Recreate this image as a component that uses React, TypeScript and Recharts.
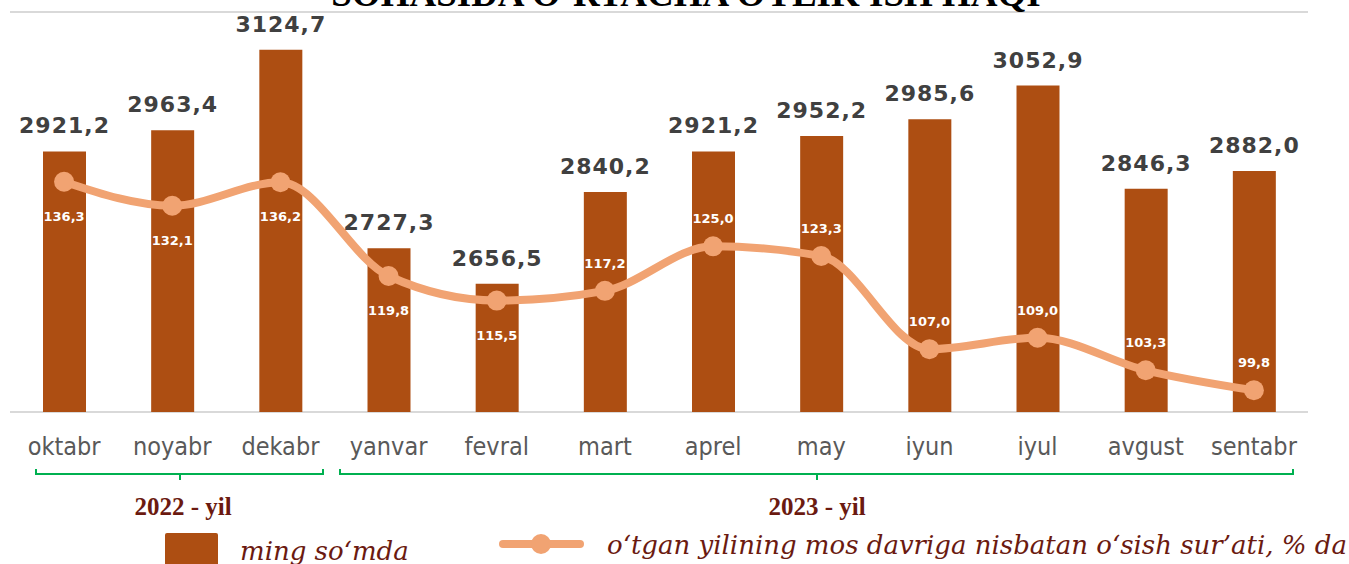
import React from "react";
import { Bar, CartesianGrid, ComposedChart, LabelList, Line, XAxis, YAxis } from "recharts";

// oylar
const months = ["oktabr", "noyabr", "dekabr", "yanvar", "fevral", "mart", "aprel", "may", "iyun", "iyul", "avgust", "sentabr"];
// o'rtacha oylik ish haqi, ming so'mda
const wages = [2921.2, 2963.4, 3124.7, 2727.3, 2656.5, 2840.2, 2921.2, 2952.2, 2985.6, 3052.9, 2846.3, 2882.0];
// o'tgan yilning mos davriga nisbatan o'sish sur'ati, %
const growth = [136.3, 132.1, 136.2, 119.8, 115.5, 117.2, 125.0, 123.3, 107.0, 109.0, 103.3, 99.8];
const wageTicks = [2400, 2500, 2600, 2700, 2800, 2900, 3000, 3100, 3200];

const data = months.map((m, i) => ({ month: m, wage: wages[i], growth: growth[i] }));

const W = 1349;
const H = 564;
const BAR = "#AD4E12";
const LINE = "#F1A372";
const DARKRED = "#6B1A10";

const fmt = (v: unknown) => Number(v).toFixed(1).replace(".", ",");

function MonthTick(props: any) {
  const { x, y, payload } = props;
  return (
    <text x={x} y={y + 35} textAnchor="middle" fill="#595959" fontSize={25} fontFamily="'DejaVu Sans Condensed', 'DejaVu Sans', sans-serif">
      {payload.value}
    </text>
  );
}

function GrowthLabel(props: any) {
  const { x, y, value, index } = props;
  // birinchi besh oyda yorliq nuqta ostida
  const below = index < 5;
  return (
    <text
      x={x}
      y={below ? y + 39 : y - 23}
      textAnchor="middle"
      fill="#fff"
      fontSize={13}
      fontWeight="bold"
      fontFamily="'DejaVu Sans', sans-serif"
    >
      {fmt(value)}
    </text>
  );
}

export default function App() {
  return (
    <div style={{ position: "absolute", left: 0, top: 0, width: W, height: H, overflow: "hidden", background: "#fff" }}>
      <ComposedChart width={W} height={H} data={data} margin={{ top: 12, right: 41, left: 10, bottom: 112 }}>
        <CartesianGrid vertical={false} stroke="#D9D9D9" strokeWidth={2} yAxisId="left" />
        <XAxis dataKey="month" axisLine={false} tickLine={false} height={40} tick={<MonthTick />} interval={0} />
        <YAxis yAxisId="left" domain={[2400, 3200]} ticks={wageTicks} width={0} tick={false} axisLine={false} tickLine={false} />
        <YAxis yAxisId="right" orientation="right" domain={[96, 166]} hide />
        <Bar yAxisId="left" dataKey="wage" fill={BAR} barSize={43} isAnimationActive={false}>
          <LabelList
            dataKey="wage"
            position="top"
            offset={18}
            formatter={fmt}
            fill="#404040"
            fontSize={22}
            fontWeight="bold"
            letterSpacing={1}
            fontFamily="'DejaVu Sans', sans-serif"
          />
        </Bar>
        <Line
          yAxisId="right"
          type="monotone"
          dataKey="growth"
          stroke={LINE}
          strokeWidth={8}
          dot={{ r: 10, fill: LINE, stroke: LINE, strokeWidth: 0 }}
          activeDot={false}
          isAnimationActive={false}
        >
          <LabelList dataKey="growth" content={<GrowthLabel />} />
        </Line>
      </ComposedChart>

      <svg width={W} height={H} style={{ position: "absolute", left: 0, top: 0, pointerEvents: "none" }}>
        <text x={686} y={6} textAnchor="middle" fontSize={37} fontWeight="bold" fontFamily="'Liberation Serif', serif" fill="#000">
          SOHASIDA O‘RTACHA OYLIK ISH HAQI
        </text>

        <g stroke="#00B050" strokeWidth={2} fill="none">
          <path d="M36 469 V474 H323 V469 M180 474 V480" />
          <path d="M340 469 V474 H1293 V469 M817 474 V480" />
        </g>
        <g fontFamily="'Liberation Serif', serif" fontWeight="bold" fontSize={25} fill={DARKRED} textAnchor="middle">
          <text x={183} y={515}>2022 - yil</text>
          <text x={817} y={515}>2023 - yil</text>
        </g>

        <rect x={165} y={533} width={53} height={40} fill={BAR} rx={2} />
        <text x={240} y={560} fontFamily="'DejaVu Serif', serif" fontStyle="italic" fontSize={26} fill={DARKRED}>
          ming so‘mda
        </text>
        <line x1={503} y1={544} x2={580} y2={544} stroke={LINE} strokeWidth={8} strokeLinecap="round" />
        <circle cx={541} cy={544} r={10} fill={LINE} />
        <text x={607} y={554} fontFamily="'DejaVu Serif', serif" fontStyle="italic" fontSize={26} fill={DARKRED}>
          o‘tgan yilining mos davriga nisbatan o‘sish sur’ati, % da
        </text>
      </svg>
    </div>
  );
}
